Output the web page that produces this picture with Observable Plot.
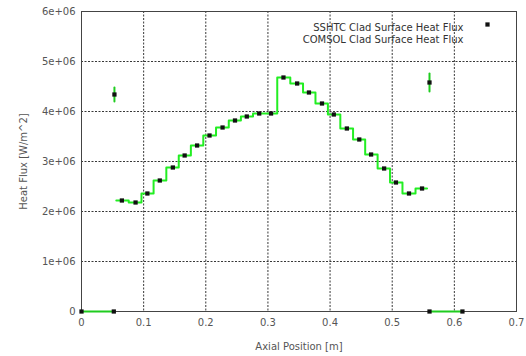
<!DOCTYPE html>
<html><head><meta charset="utf-8">
<script src="https://cdn.jsdelivr.net/npm/d3@7"></script>
<script src="https://cdn.jsdelivr.net/npm/@observablehq/plot@0.6"></script>
<style>body{margin:0;background:#fff}#chart{position:relative}</style>
</head><body><div id="chart"></div>
<script>
// SSHTC points (black squares)
const sshtcX = [0, 0.052, 0.053, 0.065, 0.087, 0.106, 0.126, 0.147, 0.166, 0.186, 0.206, 0.227, 0.247, 0.266, 0.286, 0.305, 0.325, 0.347, 0.366, 0.387, 0.406, 0.427, 0.447, 0.466, 0.487, 0.506, 0.527, 0.548, 0.56, 0.56, 0.613];
const sshtcY = [0, 0, 4.34e6, 2.22e6, 2.18e6, 2.36e6, 2.62e6, 2.88e6, 3.12e6, 3.32e6, 3.52e6, 3.68e6, 3.82e6, 3.9e6, 3.96e6, 3.96e6, 4.68e6, 4.56e6, 4.38e6, 4.16e6, 3.94e6, 3.66e6, 3.44e6, 3.14e6, 2.86e6, 2.58e6, 2.36e6, 2.46e6, 4.58e6, 0, 0];
// COMSOL curve segments (green)
const comsolSeg = [0, 0, 1, 1, 2, 2, 2, 2, 2, 2, 2, 2, 2, 2, 2, 2, 2, 2, 2, 2, 2, 2, 2, 2, 2, 2, 2, 2, 2, 2, 2, 3, 3, 4, 4];
const comsolX = [0, 0.052, 0.053, 0.053, 0.056, 0.065, 0.087, 0.106, 0.126, 0.147, 0.166, 0.186, 0.206, 0.227, 0.247, 0.266, 0.286, 0.305, 0.325, 0.347, 0.366, 0.387, 0.406, 0.427, 0.447, 0.466, 0.487, 0.506, 0.527, 0.548, 0.556, 0.56, 0.56, 0.56, 0.613];
const comsolY = [0, 0, 4.2e6, 4.48e6, 2.22e6, 2.22e6, 2.18e6, 2.36e6, 2.62e6, 2.88e6, 3.12e6, 3.32e6, 3.52e6, 3.68e6, 3.82e6, 3.9e6, 3.96e6, 3.96e6, 4.68e6, 4.56e6, 4.38e6, 4.16e6, 3.94e6, 3.66e6, 3.44e6, 3.14e6, 2.86e6, 2.58e6, 2.36e6, 2.46e6, 2.46e6, 4.4e6, 4.76e6, 0, 0];
const xTicks = [0, 0.1, 0.2, 0.3, 0.4, 0.5, 0.6, 0.7];
const yTicks = [0, 1e6, 2e6, 3e6, 4e6, 5e6, 6e6];
const yTickLabels = ["0", "1e+06", "2e+06", "3e+06", "4e+06", "5e+06", "6e+06"];
const legendLabels = ["SSHTC Clad Surface Heat Flux", "COMSOL Clad Surface Heat Flux"];

const sshtc = sshtcX.map((x, i) => ({x, y: sshtcY[i]}));
const comsol = comsolX.map((x, i) => ({x, y: comsolY[i], s: comsolSeg[i]}));
const main = comsol.filter(d => d.s === 2);
const other = comsol.filter(d => d.s !== 2);

const chart = Plot.plot({
  width: 526, height: 356,
  marginLeft: 81, marginRight: 10, marginTop: 11, marginBottom: 45,
  style: {fontFamily: "DejaVu Sans", fontSize: "10px", color: "#555", background: "#fff"},
  x: {domain: [0, 0.7], ticks: xTicks, tickFormat: d3.format("~g"), tickSize: 0, tickPadding: 7, label: "Axial Position [m]", labelAnchor: "center", labelArrow: "none", labelOffset: 38},
  y: {domain: [0, 6e6], ticks: yTicks, tickFormat: d => yTickLabels[yTicks.indexOf(d)], tickSize: 0, tickPadding: 6, label: "Heat Flux [W/m^2]", labelAnchor: "center", labelArrow: "none", labelOffset: 62},
  marks: [
    Plot.gridX(xTicks, {stroke: "#222", strokeOpacity: 0.9, strokeDasharray: "2,1.5"}),
    Plot.gridY(yTicks, {stroke: "#222", strokeOpacity: 0.9, strokeDasharray: "2,1.5"}),
    Plot.frame({stroke: "#444", strokeWidth: 1}),
    Plot.line(main, {x: "x", y: "y", curve: "step", stroke: "#22ee22", strokeWidth: 2}),
    Plot.line(other, {x: "x", y: "y", z: "s", stroke: "#1fcc1f", strokeWidth: 2}),
    Plot.dot(sshtc, {x: "x", y: "y", symbol: "square", r: 2.4, fill: "#111", stroke: "none"}),
    Plot.text([legendLabels[0]], {frameAnchor: "top-right", dx: -53, dy: 12, textAnchor: "end", fill: "#333", fontSize: 10, letterSpacing: "0.3px"}),
    Plot.text([legendLabels[1]], {frameAnchor: "top-right", dx: -53, dy: 24.5, textAnchor: "end", fill: "#333", fontSize: 10, letterSpacing: "0.3px"}),
    Plot.dot([0], {frameAnchor: "top-right", dx: -29, dy: 13, symbol: "square", r: 2.4, fill: "#111"})
  ]
});
document.getElementById("chart").appendChild(chart);
</script></body></html>
